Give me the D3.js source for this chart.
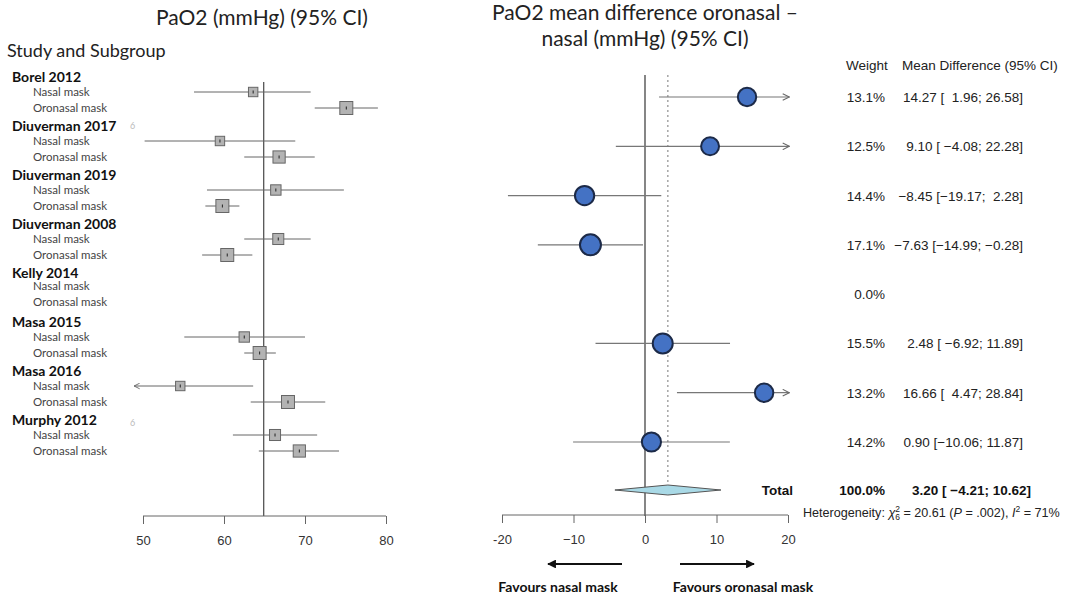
<!DOCTYPE html>
<html>
<head>
<meta charset="utf-8">
<script src="https://cdn.jsdelivr.net/npm/d3@7/dist/d3.min.js"></script>
<style>
  html, body { margin: 0; padding: 0; background: #fff; }
  svg { display: block; }
  .cal { font-family: Lato, "Open Sans", sans-serif; }
  .hel { font-family: "Liberation Sans", Arial, sans-serif; }
</style>
</head>
<body>
<svg id="chart" width="1066" height="597"></svg>
<script>
// ---- data ----
const studies = ["Borel 2012", "Diuverman 2017", "Diuverman 2019", "Diuverman 2008",
                 "Kelly 2014", "Masa 2015", "Masa 2016", "Murphy 2012"];
const subgroups = ["Nasal mask", "Oronasal mask"];

// PaO2 (mmHg) per arm: mean, lower, upper (null where not reported)
const nasalMean  = [63.6, 59.5, 66.4, 66.7, null, 62.5, 54.6, 66.3];
const nasalLow   = [56.3, 50.2, 57.9, 62.5, null, 55.1, 45.0, 61.1];
const nasalHigh  = [70.7, 68.8, 74.8, 70.7, null, 70.0, 63.6, 71.5];
const oroMean    = [75.1, 66.8, 59.8, 60.4, null, 64.4, 67.9, 69.3];
const oroLow     = [71.2, 62.5, 57.7, 57.3, null, 62.5, 63.3, 64.3];
const oroHigh    = [79.0, 71.2, 61.9, 63.5, null, 66.4, 72.5, 74.2];
// relative precision of each arm (box area)
const nasalPrecision = [0.45, 0.45, 0.55, 0.62, null, 0.55, 0.45, 0.62];
const oroPrecision   = [0.86, 0.76, 0.86, 0.86, null, 0.86, 0.86, 0.76];
const pooledPaO2 = 64.9;
const leftTicks = [50, 60, 70, 80];

// mean difference oronasal - nasal
const mdWeight = [13.1, 12.5, 14.4, 17.1, 0.0, 15.5, 13.2, 14.2];
const mdMean   = [14.27, 9.10, -8.45, -7.63, null, 2.48, 16.66, 0.90];
const mdLow    = [1.96, -4.08, -19.17, -14.99, null, -6.92, 4.47, -10.06];
const mdHigh   = [26.58, 22.28, 2.28, -0.28, null, 11.89, 28.84, 11.87];
const total = { weight: 100.0, mean: 3.20, low: -4.21, high: 10.62 };
const rightTicks = [-20, -10, 0, 10, 20];
const rightTickLabels = ["-20", "\u221210", "0", "10", "20"];

const fmt2 = d3.format(".2f");
const minus = s => s.replace(/-/g, "\u2212");
// meta-style interval text: lower bound padded to 6 chars, upper to 5
function ciText(m, l, h) {
  return minus(`${fmt2(m)} [${fmt2(l).padStart(6)}; ${fmt2(h).padStart(5)}]`);
}

const svg = d3.select("#chart");
const defs = svg.append("defs");
defs.append("marker").attr("id", "thin").attr("viewBox", "0 0 10 10")
  .attr("refX", 9).attr("refY", 5).attr("markerWidth", 7).attr("markerHeight", 7)
  .attr("orient", "auto-start-reverse")
  .append("path").attr("d", "M1,1 L9,5 L1,9").attr("fill", "none").attr("stroke", "#666").attr("stroke-width", 1.3);
defs.append("marker").attr("id", "bold").attr("viewBox", "0 0 10 10")
  .attr("refX", 9).attr("refY", 5).attr("markerWidth", 4).attr("markerHeight", 4)
  .attr("orient", "auto")
  .append("path").attr("d", "M0,0 L10,5 L0,10 Z").attr("fill", "#111");

// ================= left panel =================
const xL = d3.scaleLinear().domain([50, 80]).range([143, 386]);
const xLclip = [48.9, 80];
const studyY = d3.scalePoint().domain(studies).range([77, 420]);
const boxSide = d3.scaleSqrt().domain([0, 1]).range([0, 14]);

svg.append("text").attr("class", "cal").attr("x", 262).attr("y", 25)
  .attr("text-anchor", "middle").attr("font-size", 21).attr("fill", "#222")
  .text("PaO2 (mmHg) (95% CI)");
svg.append("text").attr("class", "cal").attr("x", 7).attr("y", 57)
  .attr("font-size", 18).attr("fill", "#222").text("Study and Subgroup");

// pooled reference line
svg.append("line").attr("x1", xL(pooledPaO2)).attr("x2", xL(pooledPaO2))
  .attr("y1", 82).attr("y2", 516).attr("stroke", "#555").attr("stroke-width", 1.3);

const leftRows = [];
studies.forEach((s, i) => {
  const y0 = studyY(s);
  svg.append("text").attr("class", "cal").attr("x", 12).attr("y", y0 + 5)
    .attr("font-size", 14).attr("font-weight", "bold").attr("fill", "#111").text(s);
  const arms = [
    { mean: nasalMean[i], low: nasalLow[i], high: nasalHigh[i], w: nasalPrecision[i], dy: i === 4 ? 13 : 15 },
    { mean: oroMean[i], low: oroLow[i], high: oroHigh[i], w: oroPrecision[i], dy: i === 4 ? 29 : 31 }
  ];
  arms.forEach((a, k) => {
    const y = y0 + a.dy;
    svg.append("text").attr("class", "cal").attr("x", 33).attr("y", y + 4)
      .attr("font-size", 11.5).attr("fill", "#444").text(subgroups[k]);
    if (a.mean != null) leftRows.push({ ...a, y });
  });
});
// stray glyphs next to two study names
[125, 422].forEach(y => svg.append("text").attr("class", "cal").attr("x", 130).attr("y", y + 4)
  .attr("font-size", 9).attr("fill", "#bbb").text("6"));

leftRows.forEach(r => {
  const lo = Math.max(r.low, xLclip[0]), hi = Math.min(r.high, xLclip[1]);
  const line = svg.append("line").attr("x1", xL(r.mean)).attr("x2", xL(lo)).attr("y1", r.y).attr("y2", r.y)
    .attr("stroke", "#666").attr("stroke-width", 1);
  if (r.low < xLclip[0]) line.attr("marker-end", "url(#thin)");
  svg.append("line").attr("x1", xL(r.mean)).attr("x2", xL(hi)).attr("y1", r.y).attr("y2", r.y)
    .attr("stroke", "#666").attr("stroke-width", 1);
  const s = boxSide(r.w);
  svg.append("rect").attr("x", xL(r.mean) - s / 2).attr("y", r.y - s / 2)
    .attr("width", s).attr("height", s).attr("fill", "#b3b3b3").attr("stroke", "#666").attr("stroke-width", 1);
  svg.append("line").attr("x1", xL(r.mean)).attr("x2", xL(r.mean)).attr("y1", r.y - 1.5).attr("y2", r.y + 1.5)
    .attr("stroke", "#222").attr("stroke-width", 1);
});

const axL = svg.append("g").attr("transform", "translate(0,516)")
  .call(d3.axisBottom(xL).tickValues(leftTicks).tickSize(8).tickPadding(12).tickFormat(d3.format("d")));
axL.select(".domain").attr("stroke", "#666").attr("d", `M${xL(50)},0H${xL(80)}`);
axL.selectAll(".tick line").attr("stroke", "#666");
axL.selectAll("text").attr("class", "hel").attr("font-size", 13).attr("fill", "#333");

// ================= right panel =================
const xR = d3.scaleLinear().domain([-20, 20]).range([502, 788]);
const xRclip = [-20, 20.2];
const rowY = d3.scalePoint().domain(d3.range(studies.length)).range([97, 442]);
const totalY = 490;
const rScale = d3.scaleSqrt().domain([0, 17.1]).range([0, 10.5]);

const t2 = svg.append("text").attr("class", "cal").attr("x", 645).attr("font-size", 21)
  .attr("text-anchor", "middle").attr("fill", "#222");
t2.append("tspan").attr("x", 645).attr("y", 20).text("PaO2 mean difference oronasal \u2013");
t2.append("tspan").attr("x", 645).attr("y", 46).text("nasal (mmHg) (95% CI)");

svg.append("line").attr("x1", xR(0)).attr("x2", xR(0)).attr("y1", 75).attr("y2", 516)
  .attr("stroke", "#444").attr("stroke-width", 1.3);
svg.append("line").attr("x1", xR(total.mean)).attr("x2", xR(total.mean)).attr("y1", 75).attr("y2", 486)
  .attr("stroke", "#777").attr("stroke-width", 1).attr("stroke-dasharray", "2,3");

mdMean.forEach((m, i) => {
  if (m == null) return;
  const y = rowY(i);
  const lo = Math.max(mdLow[i], xRclip[0]), hi = Math.min(mdHigh[i], xRclip[1]);
  const line = svg.append("line").attr("x1", xR(lo)).attr("x2", xR(hi)).attr("y1", y).attr("y2", y)
    .attr("stroke", "#777").attr("stroke-width", 1.2);
  if (mdHigh[i] > xRclip[1]) line.attr("marker-end", "url(#thin)");
  svg.append("circle").attr("cx", xR(m)).attr("cy", y).attr("r", rScale(mdWeight[i]))
    .attr("fill", "#4472c4").attr("stroke", "#1c2a48").attr("stroke-width", 2);
});

// pooled diamond
svg.append("path")
  .attr("d", `M${xR(total.low)},${totalY} L${xR(total.mean)},${totalY - 5} L${xR(total.high)},${totalY} L${xR(total.mean)},${totalY + 5} Z`)
  .attr("fill", "#a9d9e6").attr("stroke", "#555").attr("stroke-width", 1);

const axR = svg.append("g").attr("transform", "translate(0,515)")
  .call(d3.axisBottom(xR).tickValues(rightTicks).tickSize(8).tickPadding(12)
    .tickFormat((d, i) => rightTickLabels[i]));
axR.select(".domain").attr("stroke", "#666").attr("d", `M${xR(-20)},0H${xR(20)}`);
axR.selectAll(".tick line").attr("stroke", "#666");
axR.selectAll("text").attr("class", "hel").attr("font-size", 13).attr("fill", "#333");

// favours arrows
svg.append("line").attr("x1", 622).attr("x2", 548).attr("y1", 564).attr("y2", 564)
  .attr("stroke", "#111").attr("stroke-width", 2.2).attr("marker-end", "url(#bold)");
svg.append("line").attr("x1", 680).attr("x2", 754).attr("y1", 564).attr("y2", 564)
  .attr("stroke", "#111").attr("stroke-width", 2.2).attr("marker-end", "url(#bold)");
svg.append("text").attr("class", "cal").attr("x", 558).attr("y", 592).attr("text-anchor", "middle")
  .attr("font-size", 14).attr("font-weight", "bold").attr("fill", "#111").text("Favours nasal mask");
svg.append("text").attr("class", "cal").attr("x", 743).attr("y", 592).attr("text-anchor", "middle")
  .attr("font-size", 14).attr("font-weight", "bold").attr("fill", "#111").text("Favours oronasal mask");

// ================= table =================
svg.append("text").attr("class", "hel").attr("x", 846).attr("y", 70).attr("font-size", 13.5)
  .attr("fill", "#222").text("Weight");
svg.append("text").attr("class", "hel").attr("x", 902).attr("y", 70).attr("font-size", 13.5)
  .attr("fill", "#222").text("Mean Difference (95% CI)");

mdWeight.forEach((w, i) => {
  const y = rowY(i) + 5;
  svg.append("text").attr("class", "hel").attr("x", 885).attr("y", y).attr("text-anchor", "end")
    .attr("font-size", 13.5).attr("fill", "#222").attr("xml:space", "preserve").text(w.toFixed(1) + "%");
  if (mdMean[i] != null)
    svg.append("text").attr("class", "hel").attr("x", 1023).attr("y", y).attr("text-anchor", "end")
      .attr("font-size", 13.5).attr("fill", "#222").attr("xml:space", "preserve")
      .text(ciText(mdMean[i], mdLow[i], mdHigh[i]));
});

svg.append("text").attr("class", "hel").attr("x", 793).attr("y", totalY + 5).attr("text-anchor", "end")
  .attr("font-size", 13.5).attr("font-weight", "bold").attr("fill", "#111").text("Total");
svg.append("text").attr("class", "hel").attr("x", 885).attr("y", totalY + 5).attr("text-anchor", "end")
  .attr("font-size", 13.5).attr("font-weight", "bold").attr("fill", "#111").text(total.weight.toFixed(1) + "%");
svg.append("text").attr("class", "hel").attr("x", 1031).attr("y", totalY + 5).attr("text-anchor", "end")
  .attr("font-size", 13.5).attr("font-weight", "bold").attr("fill", "#111").attr("xml:space", "preserve")
  .text(ciText(total.mean, total.low, total.high));

// heterogeneity line
const het = svg.append("text").attr("class", "hel").attr("x", 803).attr("y", 517)
  .attr("font-size", 12.6).attr("fill", "#222");
het.append("tspan").text("Heterogeneity: ");
het.append("tspan").attr("font-style", "italic").text("\u03c7");
het.append("tspan").attr("font-size", 8.5).attr("dy", -5).text("2");
het.append("tspan").attr("font-size", 8.5).attr("dx", -4.8).attr("dy", 8).text("6");
het.append("tspan").attr("dy", -3).text(" = 20.61 (");
het.append("tspan").attr("font-style", "italic").text("P");
het.append("tspan").text(" = .002), ");
het.append("tspan").attr("font-style", "italic").text("I");
het.append("tspan").attr("font-size", 8.5).attr("dy", -5).text("2");
het.append("tspan").attr("dy", 5).text(" = 71%");
</script>
</body>
</html>
